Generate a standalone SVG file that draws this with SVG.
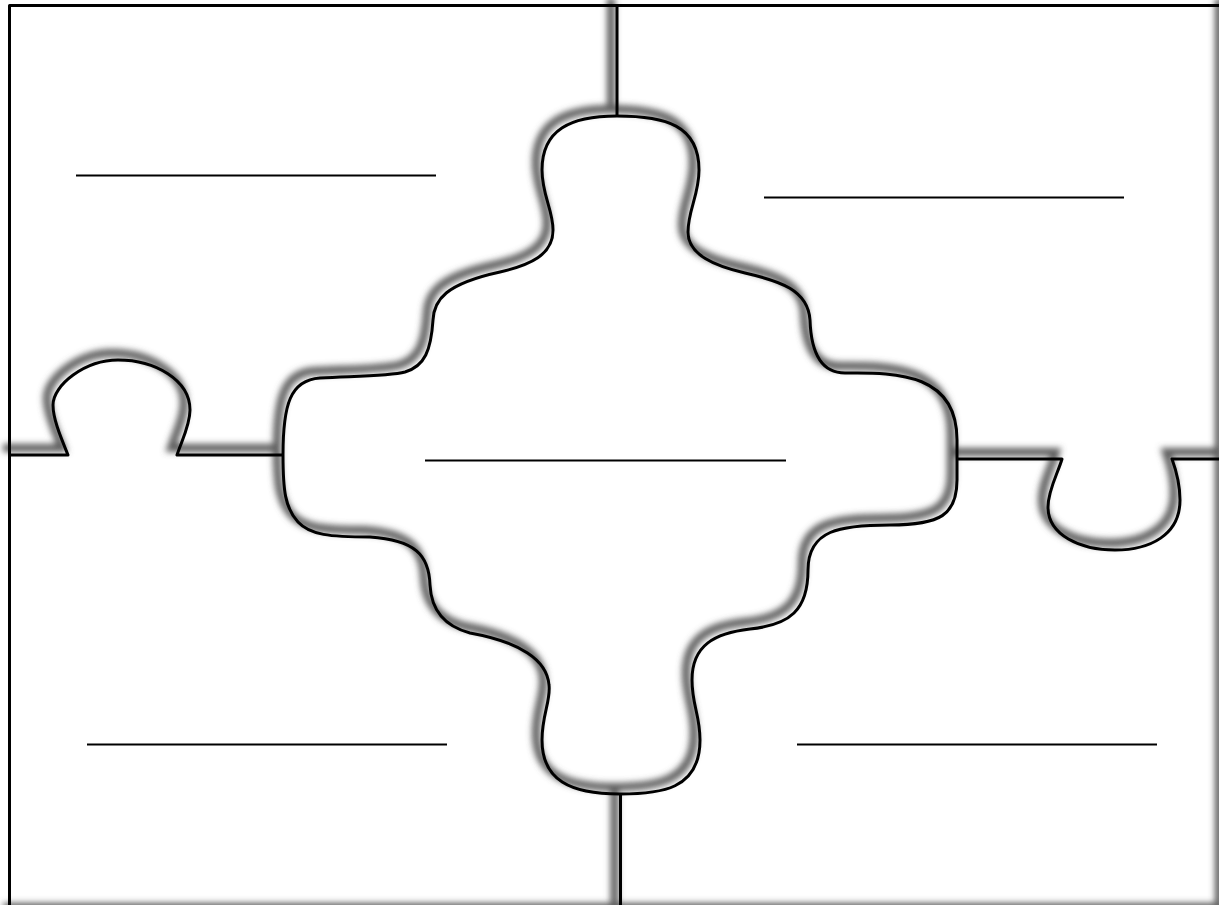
<svg xmlns="http://www.w3.org/2000/svg" xmlns:xlink="http://www.w3.org/1999/xlink" width="1219" height="905" viewBox="0 0 1219 905">
  <style>
    .edge { fill: none; stroke: #000; stroke-width: 3; stroke-linejoin: round; }
    .shadow { fill: none; stroke: #5c5c5c; stroke-width: 8; }
    .blank { stroke: #000; stroke-width: 1.8; }
  </style>
  <defs>
    <filter id="soft" filterUnits="userSpaceOnUse" x="-40" y="-40" width="1320" height="1000">
      <feGaussianBlur stdDeviation="3.3"/>
    </filter>
    <path id="frame" d="M9.5,914 V5.5 H1225 V914 Z"/>
    <path id="frameRB" d="M1225,5.5 V914 H9.5"/>
    <path id="divTop" d="M617,5 V117"/>
    <path id="divBottom" d="M620.5,794 V914"/>
    <path id="divLeft" d="M9,455 H68 C62,440 53,420 53,405 C53,385 85,360 118,360 C155,360 190,380 190,410 C190,425 182,440 177,455 H283"/>
    <path id="divRight" d="M957,459 H1062 C1058,473 1048,490 1048,507 C1048,535 1080,550 1115,550 C1150,550 1180,535 1180,500 C1180,485 1176,470 1172,459 H1226"/>
    <path id="center" d="M617,116 C665,116 699,125 699,170 C699,195 688,210 688,232 C688,255 715,266 745,273 C780,281 808,290 810,320 C811,350 820,373 845,373 C900,372 957,375 957,440 L957,480 C957,515 940,525 890,525 C840,525 808,530 808,570 C808,610 790,625 750,629 C715,633 692,645 692,680 C692,705 700,715 700,740 C700,790 660,794 620,794 C570,794 542,780 542,740 C542,715 551,700 549,685 C547,660 520,642 470,633 C440,625 431,605 430,585 C429,555 415,540 370,537 C330,537 310,535 298,522 C285,508 283,490 283,455 C283,405 290,380 320,378 C360,376 390,376 405,372 C425,366 431,350 433,320 C434,300 445,284 500,272 C530,265 553,255 553,230 C553,210 542,195 542,170 C542,130 570,116 617,116 Z"/>
  </defs>
  <rect width="1219" height="905" fill="#fff"/>
  <g id="shadows" class="shadow" transform="translate(-6,-7)" filter="url(#soft)">
    <use xlink:href="#frameRB"/>
    <use xlink:href="#divTop"/>
    <use xlink:href="#divBottom"/>
    <use xlink:href="#divLeft"/>
    <use xlink:href="#divRight"/>
    <use xlink:href="#center"/>
  </g>
  <g id="outlines" class="edge">
    <use id="outer-frame" xlink:href="#frame"/>
    <use id="divider-top" xlink:href="#divTop"/>
    <use id="divider-bottom" xlink:href="#divBottom"/>
    <use id="divider-left-tab" xlink:href="#divLeft"/>
    <use id="divider-right-tab" xlink:href="#divRight"/>
    <use id="center-piece" xlink:href="#center"/>
  </g>
  <g id="blanks" class="blank">
    <line x1="76" y1="175.5" x2="436" y2="175.5"/>
    <line x1="764" y1="197.5" x2="1124" y2="197.5"/>
    <line x1="425" y1="460.5" x2="786" y2="460.5"/>
    <line x1="87" y1="744.5" x2="447" y2="744.5"/>
    <line x1="797" y1="744.5" x2="1157" y2="744.5"/>
  </g>
</svg>
